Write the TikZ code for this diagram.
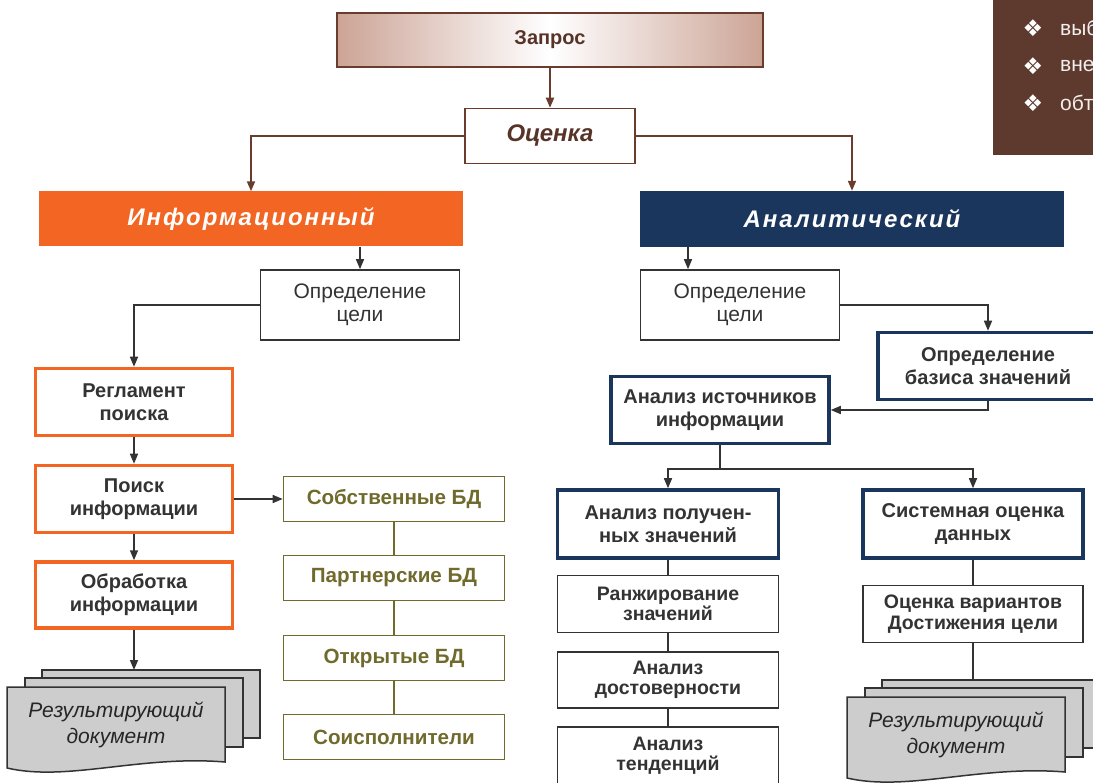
\documentclass[tikz,border=0pt]{standalone}
\usepackage{fontspec}
\setmainfont{Liberation Sans}
\newfontfamily\spacedfont[LetterSpace=8]{Liberation Sans}
\newfontfamily\symbolfont{DejaVu Sans}
\usetikzlibrary{arrows.meta}

\definecolor{brownline}{RGB}{105,60,45}
\definecolor{browntext}{RGB}{88,52,40}
\definecolor{rosefill}{RGB}{204,164,150}
\definecolor{infoorange}{RGB}{242,101,34}
\definecolor{analynavy}{RGB}{27,54,93}
\definecolor{dbolive}{RGB}{112,106,44}
\definecolor{darktext}{RGB}{51,51,51}
\definecolor{notebrown}{RGB}{94,58,46}
\definecolor{sheetgray}{RGB}{205,205,205}

\tikzset{
  box/.style={draw=darktext, line width=1.6pt, fill=white, text=darktext,
    align=center, inner sep=0pt, font=\bfseries\fontsize{20}{23}\selectfont},
  plainbox/.style={box, font=\fontsize{21}{23}\selectfont},
  tightbox/.style={box, font=\bfseries\fontsize{19.5}{20}\selectfont},
  orangebox/.style={box, draw=infoorange, line width=3.5pt},
  navybox/.style={box, draw=analynavy, line width=3.5pt},
  dbbox/.style={box, draw=dbolive, text=dbolive, font=\bfseries\fontsize{20.6}{23}\selectfont},
  header/.style={inner sep=0pt, text=white,
    font=\spacedfont\bfseries\itshape\fontsize{24}{26}\selectfont},
  arrow/.style={draw=darktext, line width=1.5pt, -{Triangle[length=10pt,width=8pt]}},
  brownarrow/.style={arrow, draw=brownline, line width=1.8pt},
  link/.style={draw=darktext, line width=1.5pt},
  oliveline/.style={draw=dbolive, line width=1.5pt},
  sheet/.style={draw=darktext, line width=1.5pt, fill=sheetgray}
}

% three stacked sheets, #1 #2 = top left corner of the front sheet
\newcommand\DocSheets[3]{
  \draw[sheet] (#1+35,#2-17) rectangle (#1+253,#2+51);
  \draw[sheet] (#1+18,#2-9) rectangle (#1+236,#2+60);
  \draw[sheet] (#1,#2) -- (#1+218,#2) -- (#1+218,#2+75)
    .. controls (#1+133,#2+68) and (#1+60,#2+95) .. (#1,#2+81) -- cycle;
  \node[align=center, text=black!85, font=\itshape\fontsize{21}{26}\selectfont]
    (#3) at (#1+109,#2+38) {Результирующий\\документ};
}

\begin{document}
\begin{tikzpicture}[x=1pt,y=-1pt]
\useasboundingbox (0,0) rectangle (1093,783);

% note box in the corner
\fill[notebrown] (993,-5) rectangle (1100,155);
\foreach \y/\word [count=\i] in {28/выб, 66/вне, 103/обт} {
  \node[text=white, font=\symbolfont\fontsize{23}{23}\selectfont] (bullet\i) at (1033,\y) {❖};
  \node[anchor=west, inner sep=0pt, text=white!92!notebrown,
    font=\fontsize{21}{21}\selectfont] (word\i) at (1060,\y) {\word};
}

% top of the tree
\node[box, draw=brownline, line width=1.5pt, left color=rosefill, right color=rosefill,
  middle color=white, text=browntext, minimum width=426pt, minimum height=54pt]
  (request) at (550,40) {Запрос};
\node[box, draw=brownline, line width=1.5pt, text=browntext,
  font=\bfseries\itshape\fontsize{24}{24}\selectfont,
  minimum width=170pt, minimum height=55pt] (assess) at (550,136) {Оценка};

\node[header, fill=infoorange, minimum width=424pt, minimum height=55pt]
  (info) at (251,219) {Информационный};
\node[header, fill=analynavy, minimum width=424pt, minimum height=56pt]
  (analy) at (852,219) {Аналитический};

\draw[brownarrow] (request.south) -- (assess.north);
\draw[brownarrow] (assess.west) -| (info.north);
\draw[brownarrow] (assess.east) -| (analy.north);

% information branch
\node[plainbox, minimum width=199pt, minimum height=70pt] (goalL) at (360,305) {Определение\\цели};
\node[orangebox, minimum width=197pt, minimum height=67pt] (rules) at (134,402) {Регламент\\поиска};
\node[orangebox, minimum width=197pt, minimum height=67pt] (search) at (134,499) {Поиск\\информации};
\node[orangebox, minimum width=197pt, minimum height=66pt] (process) at (134,595) {Обработка\\информации};

\foreach \y/\name/\txt in {499/ownDB/Собственные БД, 578/partDB/Партнерские БД,
    658/openDB/Открытые БД, 737/coDB/Соисполнители}
  \node[dbbox, minimum width=221pt, minimum height=45pt] (\name) at (394,\y) {\txt};

\draw[arrow] (info.south -| goalL.north) -- (goalL.north);
\draw[arrow] (goalL.west) -| (rules.north);
\draw[arrow] (rules) -- (search);
\draw[arrow] (search) -- (process);
\draw[arrow] (search.east) -- (ownDB.west);
\draw[oliveline] (ownDB) -- (partDB) -- (openDB) -- (coDB);

\DocSheets{7}{687}{resultL}
\coordinate (docL) at (134,670);
\draw[arrow] (process.south) -- (docL);

% analytical branch
\node[plainbox, minimum width=199pt, minimum height=70pt] (goalR) at (740,305) {Определение\\цели};
\node[navybox, minimum width=220pt, minimum height=67pt] (basis) at (988,366) {Определение\\базиса значений};
\node[navybox, minimum width=218pt, minimum height=67pt] (sources) at (720,410) {Анализ источников\\информации};
\node[navybox, minimum width=221pt, minimum height=68pt] (received) at (668,524) {Анализ получен-\\ных значений};
\node[navybox, minimum width=220pt, minimum height=68pt] (system) at (973,524) {Системная оценка\\данных};

\node[tightbox, minimum width=221pt, minimum height=57pt] (rank) at (668,604) {Ранжирование\\значений};
\node[tightbox, minimum width=221pt, minimum height=56pt] (reliab) at (668,680) {Анализ\\достоверности};
\node[tightbox, minimum width=221pt, minimum height=58pt] (trend) at (668,756) {Анализ\\тенденций};
\node[tightbox, font=\bfseries\fontsize{19.5}{21}\selectfont, minimum width=220pt,
  minimum height=57pt] (variants) at (973,614) {Оценка вариантов\\Достижения цели};

\draw[arrow] ([xshift=-52pt]goalR.north |- analy.south) -- ([xshift=-52pt]goalR.north);
\draw[arrow] (goalR.east) -| (basis.north);
\draw[arrow] (basis.south) |- (sources.east);
\draw[link] (sources.south) -- ++(0,24) coordinate (fork);
\draw[arrow] (fork) -| (received.north);
\draw[arrow] (fork) -| (system.north);
\draw[link] (received) -- (rank) -- (reliab) -- (trend);
\draw[link] (system) -- (variants);

\DocSheets{847}{697}{resultR}
\coordinate (docR) at (973,680);
\draw[link] (variants.south) -- (docR);
\end{tikzpicture}
\end{document}
